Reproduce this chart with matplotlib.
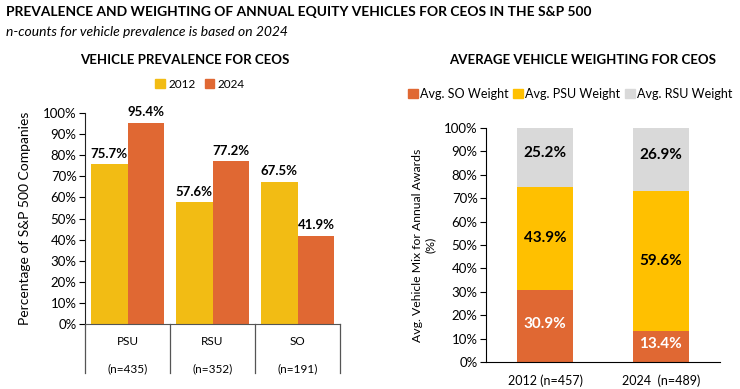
import numpy as np
import matplotlib.pyplot as plt
from matplotlib.patches import Patch
import matplotlib

matplotlib.rcParams['font.family'] = ['Lato', 'DejaVu Sans']

# prevalence data
vehicles = ['PSU', 'RSU', 'SO']
n_counts = ['(n=435)', '(n=352)', '(n=191)']
prev_2012 = [75.7, 57.6, 67.5]
prev_2024 = [95.4, 77.2, 41.9]

# weighting data
years = ['2012 (n=457)', '2024  (n=489)']
so_weight = [30.9, 13.4]
psu_weight = [43.9, 59.6]
rsu_weight = [25.2, 26.9]

YEL = '#F2BC14'
ORG = '#E06833'
YEL2 = '#FFC000'
GRY = '#D9D9D9'

W, H = 740, 389
fig = plt.figure(figsize=(W / 100, H / 100), dpi=100, facecolor='white')


def box(l, t, r, b):
    return [l / W, (H - b) / H, (r - l) / W, (b - t) / H]


fig.text(6 / W, 1 - 12 / H, 'PREVALENCE AND WEIGHTING OF ANNUAL EQUITY VEHICLES FOR CEOS IN THE S&P 500',
         fontsize=9.9, fontweight='bold', va='center', ha='left')
fig.text(6 / W, 1 - 32 / H, 'n-counts for vehicle prevalence is based on 2024',
         fontsize=10, style='italic', va='center', ha='left')

# ---- left chart
ax = fig.add_axes(box(85, 113, 340, 324))
x = np.arange(len(vehicles))
bw = 0.435
b1 = ax.bar(x - bw / 2, prev_2012, bw, color=YEL, label='2012')
b2 = ax.bar(x + bw / 2, prev_2024, bw, color=ORG, label='2024')
for bars, vals in [(b1, prev_2012), (b2, prev_2024)]:
    for r, v in zip(bars, vals):
        ax.text(r.get_x() + r.get_width() / 2, v + 2, f'{v:.1f}%', ha='center', va='bottom',
                fontsize=9.5, fontweight='bold')
ax.set_xlim(-0.5, 2.5)
ax.set_ylim(0, 100)
ax.set_yticks(np.arange(0, 101, 10))
ax.set_yticklabels([f'{v}%' for v in range(0, 101, 10)], fontsize=9.5)
ax.set_xticks([])
ax.spines['top'].set_visible(False)
ax.spines['right'].set_visible(False)
ax.spines['left'].set_color('#222222')
ax.spines['bottom'].set_color('#555555')
ax.tick_params(axis='y', length=4, width=0.8, pad=2)
ax.set_ylabel('Percentage of S&P 500 Companies', fontsize=10, labelpad=9)
tr = ax.get_xaxis_transform()
for i, (v, n) in enumerate(zip(vehicles, n_counts)):
    ax.text(i, -0.085, v, transform=tr, ha='center', va='center', fontsize=8.5)
    ax.text(i, -0.21, n, transform=tr, ha='center', va='center', fontsize=8.5)
for xd in [-0.5, 0.5, 1.5, 2.5]:
    ax.plot([xd, xd], [0, -0.232], transform=tr, color='#555555', lw=0.9, clip_on=False)
ax.legend(handles=[Patch(color=YEL, label='2012'), Patch(color=ORG, label='2024')],
          loc='center', bbox_to_anchor=(200 / W, 1 - 84 / H), bbox_transform=fig.transFigure,
          ncol=2, frameon=False, fontsize=8.5, handlelength=0.8, handleheight=0.8,
          handletextpad=0.3, columnspacing=0.8)
fig.text(185 / W, 1 - 60 / H, 'VEHICLE PREVALENCE FOR CEOS', fontsize=9.5, fontweight='bold',
         ha='center', va='center')

# ---- right chart
ax2 = fig.add_axes(box(486, 128, 720, 362))
x2 = np.arange(len(years))
bw2 = 0.48
so = np.array(so_weight)
psu = np.array(psu_weight)
rsu = np.array(rsu_weight)
ax2.bar(x2, so, bw2, color=ORG)
ax2.bar(x2, psu, bw2, bottom=so, color=YEL2)
ax2.bar(x2, rsu, bw2, bottom=so + psu, color=GRY)
for i in range(len(years)):
    ax2.text(i, so[i] / 2 + 1, f'{so[i]:.1f}%', ha='center', va='center', fontsize=11,
             fontweight='bold', color='white')
    ax2.text(i, so[i] + psu[i] / 2, f'{psu[i]:.1f}%', ha='center', va='center', fontsize=11,
             fontweight='bold')
    ax2.text(i, so[i] + psu[i] + rsu[i] / 2 + 2, f'{rsu[i]:.1f}%', ha='center', va='center',
             fontsize=11, fontweight='bold')
ax2.set_xlim(-0.51, 1.51)
ax2.set_ylim(0, 100)
ax2.set_yticks(np.arange(0, 101, 10))
ax2.set_yticklabels([f'{v}%' for v in range(0, 101, 10)], fontsize=9.5)
ax2.set_xticks(x2)
ax2.set_xticklabels(years, fontsize=9)
ax2.tick_params(axis='x', length=0, pad=9)
ax2.tick_params(axis='y', length=4, width=0.8, pad=2)
ax2.spines['top'].set_visible(False)
ax2.spines['right'].set_visible(False)
ax2.set_ylabel('Avg. Vehicle Mix for Annual Awards\n(%)', fontsize=8.8, labelpad=6, linespacing=1.2)
ax2.legend(handles=[Patch(color=ORG, label='Avg. SO Weight'), Patch(color=YEL2, label='Avg. PSU Weight'),
                    Patch(color=GRY, label='Avg. RSU Weight')],
           loc='center', bbox_to_anchor=(570 / W, 1 - 94 / H), bbox_transform=fig.transFigure,
           ncol=3, frameon=False, fontsize=9, handlelength=0.8, handleheight=0.8,
           handletextpad=0.15, columnspacing=0.4)
fig.text(583 / W, 1 - 60 / H, 'AVERAGE VEHICLE WEIGHTING FOR CEOS', fontsize=9.5, fontweight='bold',
         ha='center', va='center')

fig.savefig('out.png', dpi=100, facecolor='white')
